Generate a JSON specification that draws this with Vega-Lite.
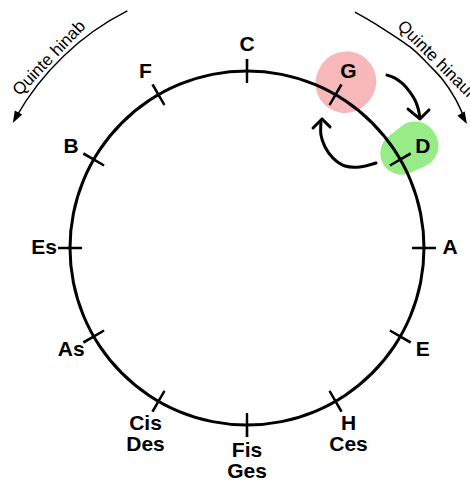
{
  "$schema": "https://vega.github.io/schema/vega-lite/v6.json",
  "width": 446,
  "height": 476,
  "autosize": "none",
  "padding": {"left": 24, "top": 10, "right": 0, "bottom": 0},
  "background": "white",
  "config": {"view": {"stroke": null}},
  "datasets": {
    "notes": [
      {"i": 0, "label": "C"}, {"i": 1, "label": "G"}, {"i": 2, "label": "D"}, {"i": 3, "label": "A"},
      {"i": 4, "label": "E"}, {"i": 5, "label": "H\nCes"}, {"i": 6, "label": "Fis\nGes"}, {"i": 7, "label": "Cis\nDes"},
      {"i": 8, "label": "As"}, {"i": 9, "label": "Es"}, {"i": 10, "label": "B"}, {"i": 11, "label": "F"}
    ],
    "blobs": [{"note": "G", "i": 1.027}, {"note": "D", "i": 1.95}],
    "arcs": [{"name": "hinab", "a0": 9.983, "a1": 11.107}],
    "captions": [{"text": "Quinte hinab", "i": 10.46}, {"text": "Quinte hinauf", "i": 1.5}],
    "paths": [
      {"path": "hinauf", "k": 0, "x": 0.610, "y": 1.333},
      {"path": "hinauf", "k": 1, "x": 0.732, "y": 1.262},
      {"path": "hinauf", "k": 2, "x": 0.921, "y": 1.136},
      {"path": "hinauf", "k": 3, "x": 1.034, "y": 1.028},
      {"path": "hinauf", "k": 4, "x": 1.107, "y": 0.949},
      {"path": "hinauf", "k": 5, "x": 1.175, "y": 0.847},
      {"path": "hinauf", "k": 6, "x": 1.226, "y": 0.740},
      {"path": "g2d", "k": 0, "x": 0.791, "y": 0.977},
      {"path": "g2d", "k": 1, "x": 0.836, "y": 0.960},
      {"path": "g2d", "k": 2, "x": 0.881, "y": 0.927},
      {"path": "g2d", "k": 3, "x": 0.921, "y": 0.881},
      {"path": "g2d", "k": 4, "x": 0.949, "y": 0.836},
      {"path": "g2d", "k": 5, "x": 0.966, "y": 0.791},
      {"path": "g2d", "k": 6, "x": 0.977, "y": 0.740},
      {"path": "d2g", "k": 0, "x": 0.729, "y": 0.480},
      {"path": "d2g", "k": 1, "x": 0.638, "y": 0.458},
      {"path": "d2g", "k": 2, "x": 0.554, "y": 0.463},
      {"path": "d2g", "k": 3, "x": 0.486, "y": 0.508},
      {"path": "d2g", "k": 4, "x": 0.441, "y": 0.571},
      {"path": "d2g", "k": 5, "x": 0.418, "y": 0.638},
      {"path": "d2g", "k": 6, "x": 0.418, "y": 0.712}
    ],
    "heads": [
      {"head": "g2d", "k": 0, "x": 0.910, "y": 0.785},
      {"head": "g2d", "k": 1, "x": 0.977, "y": 0.729},
      {"head": "g2d", "k": 2, "x": 1.028, "y": 0.780},
      {"head": "d2g", "k": 0, "x": 0.373, "y": 0.678},
      {"head": "d2g", "k": 1, "x": 0.424, "y": 0.729},
      {"head": "d2g", "k": 2, "x": 0.469, "y": 0.684}
    ],
    "tips": [{"name": "hinab", "x": -1.323, "y": 0.706}, {"name": "hinauf", "x": 1.243, "y": 0.701}]
  },
  "layer": [
    {
      "data": {"name": "blobs"},
      "transform": [{"filter": "datum.note == 'G'"}],
      "mark": {"type": "arc", "radius": 224, "radius2": 162, "thetaOffset": -0.155, "theta2Offset": 0.155, "cornerRadius": 30, "color": "#f6b8b8"},
      "encoding": {
        "theta": {"field": "i", "type": "quantitative", "stack": null, "scale": {"type": "linear", "domain": [0, 12], "range": [0, 6.283185307179586], "zero": false, "nice": false}},
        "theta2": {"field": "i"}
      }
    },
    {
      "data": {"name": "blobs"},
      "transform": [{"filter": "datum.note == 'D'"}],
      "mark": {"type": "arc", "radius": 220, "radius2": 160, "thetaOffset": -0.118, "theta2Offset": 0.118, "cornerRadius": 22, "color": "#97ec88"},
      "encoding": {
        "theta": {"field": "i", "type": "quantitative", "stack": null, "scale": {"type": "linear", "domain": [0, 12], "range": [0, 6.283185307179586], "zero": false, "nice": false}},
        "theta2": {"field": "i"}
      }
    },
    {
      "data": {"values": [{}]},
      "mark": {"type": "arc", "theta": 0, "theta2": 6.2832, "radius": 178.5, "radius2": 175.5, "color": "black"},
      "encoding": {}
    },
    {
      "data": {"name": "notes"},
      "mark": {"type": "arc", "radius": 189, "radius2": 165, "thetaOffset": -0.0071, "theta2Offset": 0.0071, "color": "black"},
      "encoding": {
        "theta": {"field": "i", "type": "quantitative", "stack": null, "scale": {"type": "linear", "domain": [0, 12], "range": [0, 6.283185307179586], "zero": false, "nice": false}},
        "theta2": {"field": "i"}
      }
    },
    {
      "data": {"name": "notes"},
      "mark": {"type": "text", "radius": 203, "font": "Liberation Sans", "fontWeight": "bold", "fontSize": 21, "align": "center", "baseline": "middle", "lineBreak": "\n", "lineHeight": 21, "color": "black"},
      "encoding": {
        "theta": {"field": "i", "type": "quantitative", "stack": null, "scale": {"type": "linear", "domain": [0, 12], "range": [0, 6.283185307179586], "zero": false, "nice": false}},
        "text": {"field": "label"}
      }
    },
    {
      "data": {"name": "arcs"},
      "mark": {"type": "arc", "radius": 266.2, "radius2": 264.8, "color": "black"},
      "encoding": {
        "theta": {"field": "a0", "type": "quantitative", "stack": null, "scale": {"type": "linear", "domain": [0, 12], "range": [0, 6.283185307179586], "zero": false, "nice": false}},
        "theta2": {"field": "a1"}
      }
    },
    {
      "data": {"name": "captions"},
      "transform": [{"filter": "datum.text == 'Quinte hinab'"}],
      "mark": {"type": "text", "radius": 269, "angle": 313.8, "font": "Liberation Sans", "fontSize": 17, "align": "center", "baseline": "alphabetic", "color": "black"},
      "encoding": {
        "theta": {"field": "i", "type": "quantitative", "stack": null, "scale": {"type": "linear", "domain": [0, 12], "range": [0, 6.283185307179586], "zero": false, "nice": false}},
        "text": {"field": "text"}
      }
    },
    {
      "data": {"name": "captions"},
      "transform": [{"filter": "datum.text == 'Quinte hinauf'"}],
      "mark": {"type": "text", "radius": 262, "angle": 45, "font": "Liberation Sans", "fontSize": 17, "align": "center", "baseline": "alphabetic", "color": "black"},
      "encoding": {
        "theta": {"field": "i", "type": "quantitative", "stack": null, "scale": {"type": "linear", "domain": [0, 12], "range": [0, 6.283185307179586], "zero": false, "nice": false}},
        "text": {"field": "text"}
      }
    },
    {
      "data": {"name": "paths"},
      "transform": [{"filter": "datum.path == 'hinauf'"}],
      "mark": {"type": "line", "interpolate": "cardinal", "strokeWidth": 1.5, "color": "black"},
      "encoding": {
        "x": {"field": "x", "type": "quantitative", "axis": null, "scale": {"domain": [-1.26, 1.26], "nice": false, "zero": false}},
        "y": {"field": "y", "type": "quantitative", "axis": null, "scale": {"domain": [-1.3446, 1.3446], "nice": false, "zero": false}},
        "order": {"field": "k"}
      }
    },
    {
      "data": {"name": "paths"},
      "transform": [{"filter": "datum.path != 'hinauf'"}],
      "mark": {"type": "line", "interpolate": "cardinal", "strokeWidth": 3, "strokeCap": "round", "color": "black"},
      "encoding": {
        "x": {"field": "x", "type": "quantitative", "axis": null, "scale": {"domain": [-1.26, 1.26], "nice": false, "zero": false}},
        "y": {"field": "y", "type": "quantitative", "axis": null, "scale": {"domain": [-1.3446, 1.3446], "nice": false, "zero": false}},
        "detail": {"field": "path"},
        "order": {"field": "k"}
      }
    },
    {
      "data": {"name": "heads"},
      "mark": {"type": "line", "strokeWidth": 3, "strokeCap": "round", "strokeJoin": "round", "color": "black"},
      "encoding": {
        "x": {"field": "x", "type": "quantitative", "axis": null, "scale": {"domain": [-1.26, 1.26], "nice": false, "zero": false}},
        "y": {"field": "y", "type": "quantitative", "axis": null, "scale": {"domain": [-1.3446, 1.3446], "nice": false, "zero": false}},
        "detail": {"field": "head"},
        "order": {"field": "k"}
      }
    },
    {
      "data": {"name": "tips"},
      "transform": [{"filter": "datum.name == 'hinab'"}],
      "mark": {"type": "point", "shape": "M0,0L-0.35,1L0.35,1Z", "size": 576, "angle": 208, "filled": true, "opacity": 1, "strokeWidth": 0, "color": "black"},
      "encoding": {
        "x": {"field": "x", "type": "quantitative", "axis": null, "scale": {"domain": [-1.26, 1.26], "nice": false, "zero": false}},
        "y": {"field": "y", "type": "quantitative", "axis": null, "scale": {"domain": [-1.3446, 1.3446], "nice": false, "zero": false}}
      }
    },
    {
      "data": {"name": "tips"},
      "transform": [{"filter": "datum.name == 'hinauf'"}],
      "mark": {"type": "point", "shape": "M0,0L-0.35,1L0.35,1Z", "size": 576, "angle": 150, "filled": true, "opacity": 1, "strokeWidth": 0, "color": "black"},
      "encoding": {
        "x": {"field": "x", "type": "quantitative", "axis": null, "scale": {"domain": [-1.26, 1.26], "nice": false, "zero": false}},
        "y": {"field": "y", "type": "quantitative", "axis": null, "scale": {"domain": [-1.3446, 1.3446], "nice": false, "zero": false}}
      }
    }
  ]
}
